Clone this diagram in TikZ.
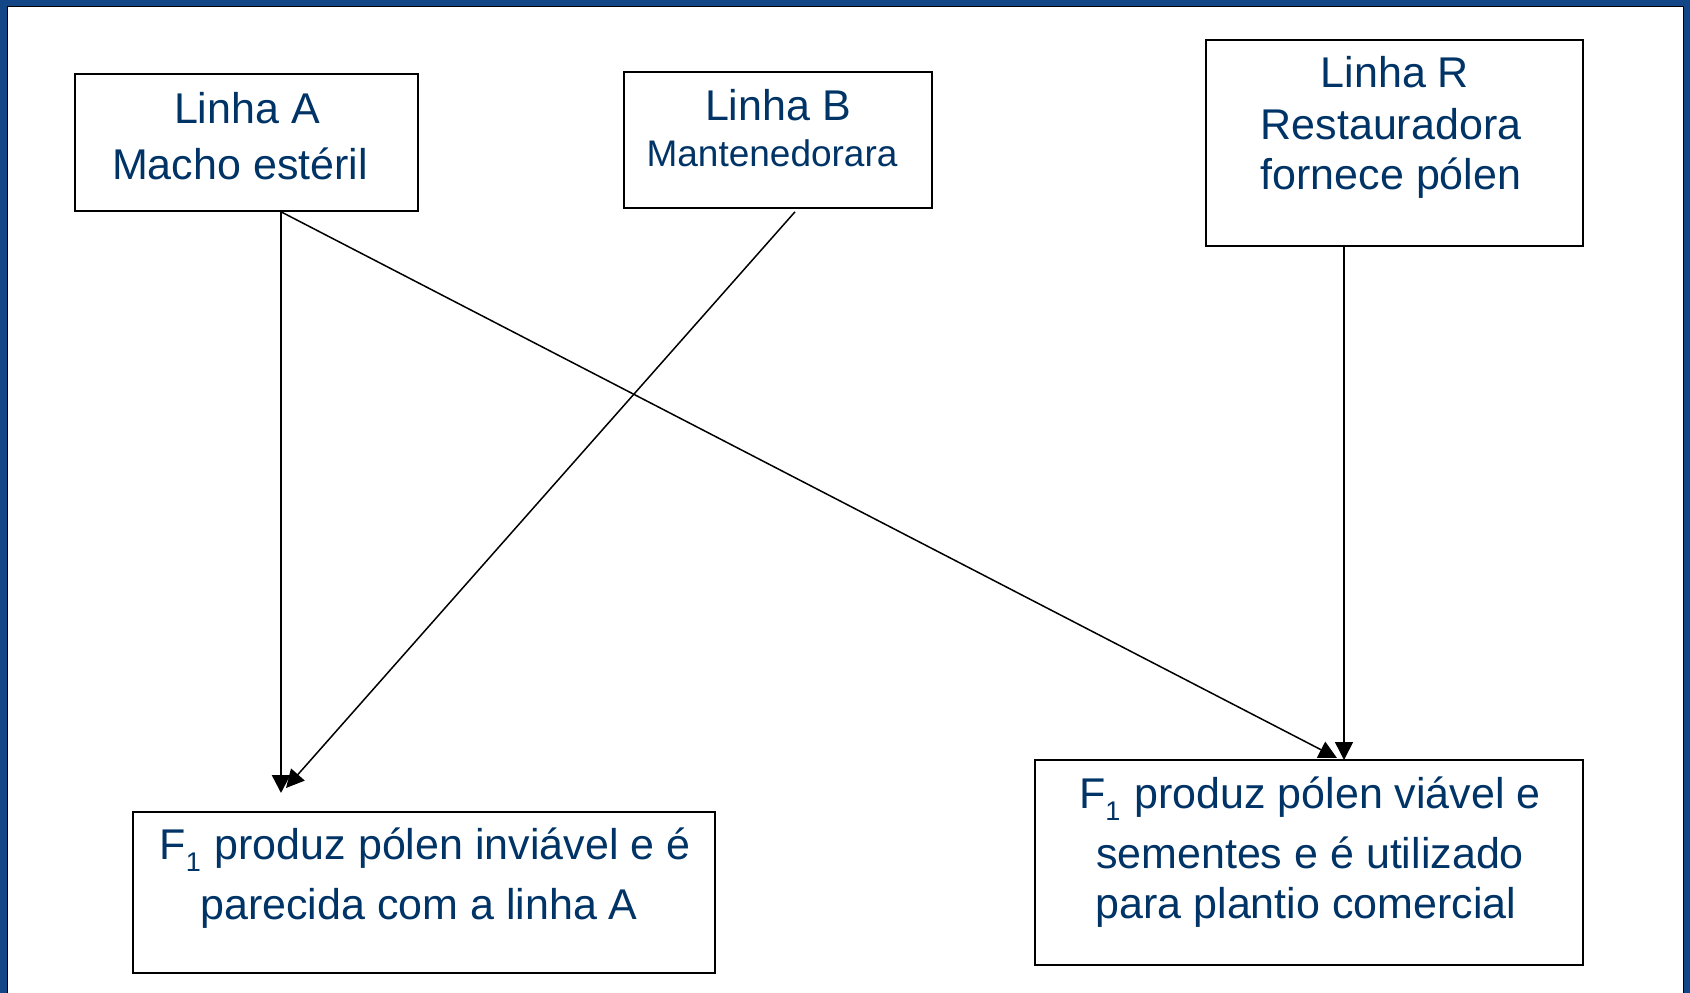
\documentclass[tikz,border=0pt]{standalone}
\usepackage{fontspec}
\setmainfont{Liberation Sans}
\usetikzlibrary{arrows.meta}
\definecolor{frameblue}{RGB}{18,70,135}
\definecolor{txtblue}{RGB}{0,51,102}
\newcommand{\Fone}{F\raisebox{-12pt}{\fontsize{27}{27}\selectfont 1}\hspace{2pt}}
\begin{document}
\begin{tikzpicture}[x=1pt,y=-1pt,
  box/.style={draw=black, line width=1.6pt, fill=white, inner sep=0pt, rectangle},
  ln/.style={anchor=base, text=txtblue, inner sep=0pt, font=\fontsize{43}{43}\selectfont},
  lnsmall/.style={ln, font=\fontsize{37}{37}\selectfont},
  lnf/.style={ln, font=\fontsize{43}{43}\selectfont},
  arr/.style={draw=black, line width=1.5pt, -{Triangle[length=18pt,width=18pt]}}]
\useasboundingbox (0,0) rectangle (1690,993);
\fill[frameblue] (0,0) rectangle (1690,993);
\filldraw[fill=white, draw=black, line width=1pt] (7,6) rectangle (1683,1010);

% top boxes
\node[box, minimum width=343pt, minimum height=137pt] (A) at (246.5,142.5) {};
\node[ln] (a1) at (247,123) {Linha A};
\node[ln] (a2) at (240,179) {Macho estéril};

\node[box, minimum width=308pt, minimum height=136pt] (B) at (778,140) {};
\node[ln] (b1) at (778,120) {Linha B};
\node[lnsmall] (b2) at (772,166) {Mantenedorara};

\node[box, minimum width=377pt, minimum height=206pt] (R) at (1394.5,143) {};
\node[ln] (r1) at (1395,87) {Linha R};
\node[ln] (r2) at (1391,139) {Restauradora};
\node[ln] (r3) at (1391,189) {fornece pólen};

% bottom boxes
\node[box, minimum width=582pt, minimum height=161pt] (FL) at (424,892.5) {};
\node[lnf] (fl1) at (425,859) {\Fone{} produz pólen inviável e é};
\node[lnf] (fl2) at (419,919) {parecida com a linha A};

\node[box, minimum width=548pt, minimum height=205pt] (FR) at (1309,862.5) {};
\node[lnf] (fr1) at (1310,808) {\Fone{} produz pólen viável e};
\node[lnf] (fr2) at (1310,868) {sementes e é utilizado};
\node[lnf] (fr3) at (1306,918) {para plantio comercial};

% arrow ends
\coordinate (tipL) at (281,793);
\coordinate (tipL2) at (286,788);
\coordinate (tipR) at (1344,760);
\coordinate (tipR2) at (1337,758);

\draw[arr, line width=2.4pt] ([xshift=34.5pt]A.south) -- (tipL);
\draw[arr] ([xshift=34.5pt]A.south) -- (tipR2);
\draw[arr] ([xshift=17pt,yshift=-3pt]B.south) -- (tipL2);
\draw[arr] ([xshift=-50.5pt]R.south) -- (tipR);
\end{tikzpicture}
\end{document}
